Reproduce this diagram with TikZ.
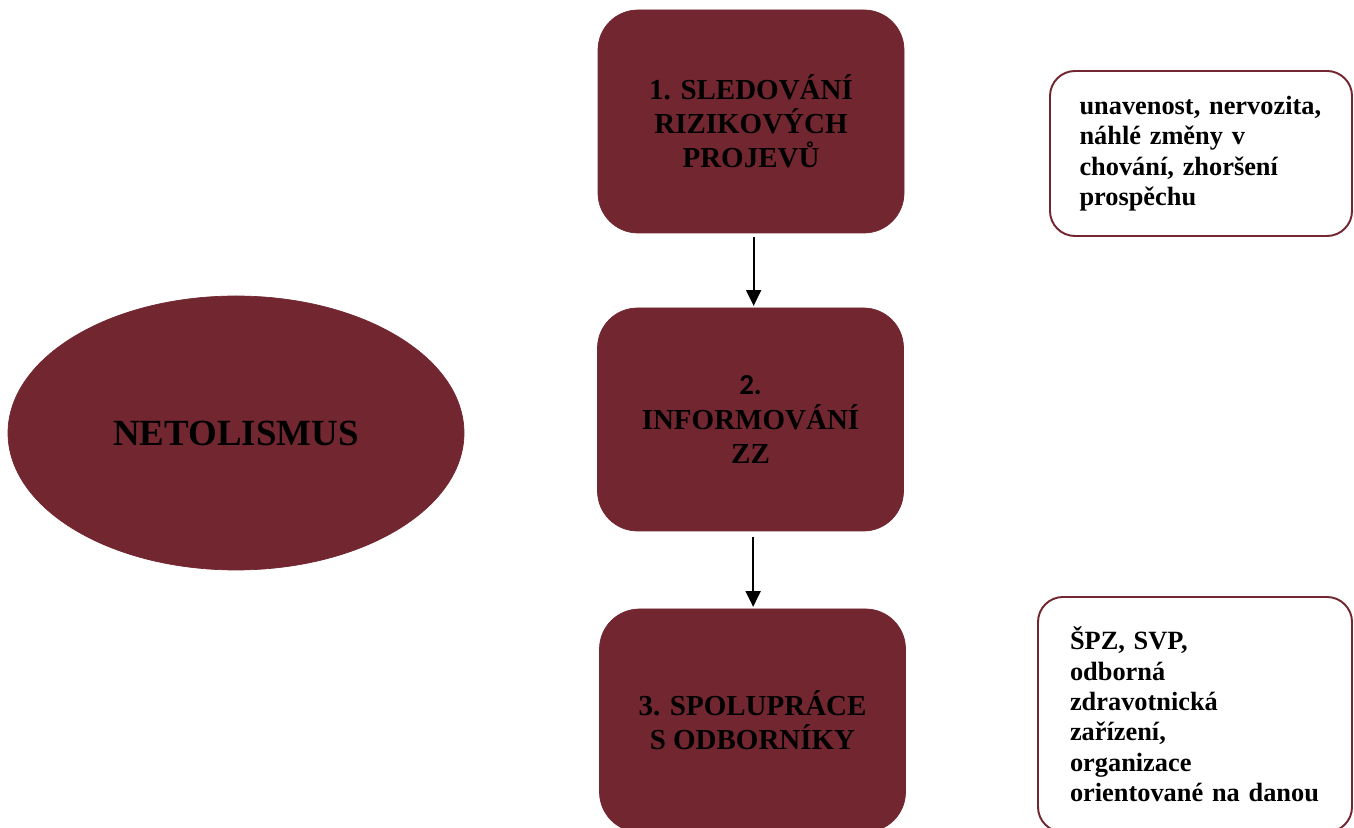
\documentclass[tikz,border=0pt]{standalone}
\usepackage{fontspec}
\setmainfont{Liberation Serif}
\newfontfamily\numfont{Carlito}
\usepackage{xcolor}
\usetikzlibrary{shapes.geometric, arrows.meta, positioning}
\definecolor{darkmaroon}{HTML}{722630}

\begin{document}
\begin{tikzpicture}[
    stepbox/.style={rectangle, draw=darkmaroon, fill=darkmaroon, rounded corners=0.8cm, minimum width=6.12cm, minimum height=4.46cm, align=center, font=\fontsize{16.5}{19.5}\selectfont\bfseries},
    topic/.style={ellipse, draw=darkmaroon, fill=darkmaroon, minimum width=9.12cm, minimum height=5.48cm, font=\fontsize{21}{25}\selectfont\bfseries},
    note/.style={rectangle, draw=darkmaroon, line width=1.1pt, fill=white, rounded corners=0.5cm, align=left, font=\fontsize{15}{17.3}\selectfont\bfseries},
    arrow/.style={-{Triangle[length=9pt, width=8.5pt]}, line width=1.1pt}
]
\useasboundingbox (0,0) rectangle (27.08,16.54);
\clip (0,0) rectangle (27.08,16.54);

% Topic
\node[topic] (netol) at (4.72,7.88) {NETOLISMUS};

% Steps
\node[stepbox] (sled) at (15.02,14.11) {1. SLEDOVÁNÍ\\RIZIKOVÝCH\\PROJEVŮ};
\node[stepbox] (info) at (15.01,8.15) {{\numfont 2.}\\INFORMOVÁNÍ\\ZZ};
\node[stepbox] (spol) at (15.05,2.13) {3. SPOLUPRÁCE\\S ODBORNÍKY};

\draw[arrow, shorten <=2pt, shorten >=1pt] ([xshift=1.5pt]sled.south) -- ([xshift=1.5pt]sled.south |- info.north);
\draw[arrow, shorten <=3pt, shorten >=1pt] ([xshift=1.5pt]info.south) -- ([xshift=1.5pt]info.south |- spol.north);

% Notes
\node[note, minimum width=6.04cm, minimum height=3.3cm, text width=4.86cm] (projevy) at (24.02,13.47)
    {unavenost, nervozita,\\náhlé změny v\\chování, zhoršení\\prospěchu};
\node[note, minimum width=6.28cm, minimum height=4.7cm, text width=5cm] (odbornici) at (23.9,2.25)
    {ŠPZ, SVP,\\odborná\\zdravotnická\\zařízení,\\organizace\\orientované na danou};

\end{tikzpicture}
\end{document}
